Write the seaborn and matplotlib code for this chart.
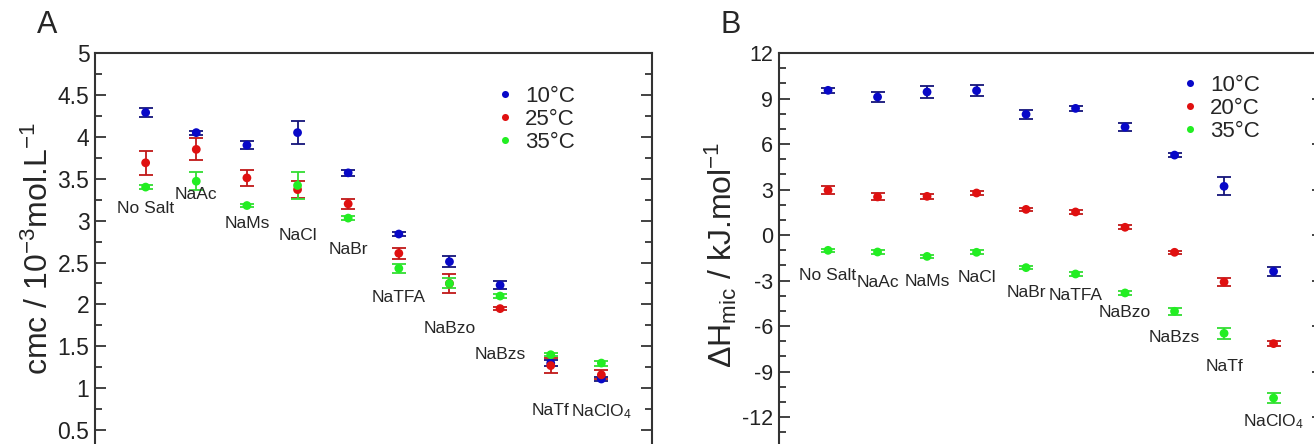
import matplotlib
matplotlib.use("Agg")
import matplotlib.pyplot as plt
import numpy as np
import pandas as pd
import seaborn as sns
from matplotlib.ticker import FixedLocator, MultipleLocator, FormatStrFormatter

# salts, in plotting order
salts = ["No Salt", "NaAc", "NaMs", "NaCl", "NaBr", "NaTFA", "NaBzo", "NaBzs", "NaTf", "NaClO$_4$"]

# panel A: cmc / 10^-3 mol.L^-1
cmc_10 = [4.29, 4.05, 3.90, 4.05, 3.57, 2.84, 2.51, 2.23, 1.30, 1.11]
cmc_10_err = [0.05, 0.025, 0.045, 0.14, 0.035, 0.02, 0.065, 0.05, 0.04, 0.02]
cmc_25 = [3.69, 3.85, 3.51, 3.37, 3.20, 2.61, 2.25, 1.95, 1.27, 1.16]
cmc_25_err = [0.14, 0.13, 0.095, 0.10, 0.06, 0.065, 0.11, 0.02, 0.085, 0.055]
cmc_35 = [3.40, 3.47, 3.18, 3.42, 3.03, 2.43, 2.25, 2.10, 1.40, 1.30]
cmc_35_err = [0.02, 0.11, 0.02, 0.16, 0.02, 0.05, 0.06, 0.02, 0.02, 0.03]
labels_a_y = [3.15, 3.31, 2.97, 2.82, 2.66, 2.08, 1.71, 1.40, 0.74, 0.72]
ticks_a = [0.5, 1, 1.5, 2, 2.5, 3, 3.5, 4, 4.5, 5]

# panel B: dH_mic / kJ.mol^-1
dh_10 = [9.54, 9.10, 9.43, 9.52, 7.96, 8.35, 7.12, 5.27, 3.21, -2.40]
dh_10_err = [0.15, 0.33, 0.40, 0.37, 0.30, 0.17, 0.26, 0.12, 0.60, 0.30]
dh_20 = [2.95, 2.51, 2.55, 2.77, 1.69, 1.52, 0.51, -1.14, -3.10, -7.16]
dh_20_err = [0.25, 0.23, 0.18, 0.10, 0.10, 0.15, 0.12, 0.10, 0.27, 0.15]
dh_35 = [-1.01, -1.12, -1.41, -1.14, -2.15, -2.57, -3.82, -5.03, -6.48, -10.75]
dh_35_err = [0.10, 0.10, 0.10, 0.12, 0.12, 0.10, 0.15, 0.25, 0.35, 0.35]
labels_b_y = [-2.64, -3.12, -3.05, -2.79, -3.82, -4.0, -5.1, -6.73, -8.66, -12.3]
ticks_b = [-12, -9, -6, -3, 0, 3, 6, 9, 12]

dot_colors = ["#0808c8", "#e01010", "#22ee22"]
bar_colors = ["#14147a", "#c01818", "#33dd33"]

sns.set_style("ticks")
plt.rcParams["font.family"] = ["Liberation Sans", "DejaVu Sans"]
plt.rcParams["mathtext.default"] = "regular"


def panel(ax, series, errors, temps, label_y, ylim, ticks, minor, ylabel, ticksize):
    pos = np.arange(1, len(salts) + 1)
    df = pd.concat([pd.DataFrame({"pos": pos, "val": s, "temp": t})
                    for s, t in zip(series, temps)])
    for s, e, c in zip(series, errors, bar_colors):
        ax.errorbar(pos, s, yerr=e, fmt="none", ecolor=c, elinewidth=1.3,
                    capsize=5, capthick=1.3, zorder=2)
    sns.scatterplot(data=df, x="pos", y="val", hue="temp", palette=dot_colors,
                    s=40, edgecolor="none", ax=ax, zorder=3)
    for p, name, ly in zip(pos, salts, label_y):
        ax.text(p, ly, name, ha="center", va="center", fontsize=12.5)
    ax.set_xlim(0, 11)
    ax.set_ylim(*ylim)
    ax.set_xticks([])
    ax.set_xlabel("")
    ax.set_ylabel(ylabel, fontsize=23)
    ax.yaxis.set_major_locator(FixedLocator(ticks))
    ax.yaxis.set_minor_locator(MultipleLocator(minor))
    ax.yaxis.set_major_formatter(FormatStrFormatter("%g"))
    ax.tick_params(axis="y", which="both", direction="in", left=True, right=True,
                   labelsize=ticksize, colors="#222222", width=1.2, pad=4)
    ax.tick_params(axis="y", which="major", length=8)
    ax.tick_params(axis="y", which="minor", length=5)
    for sp in ax.spines.values():
        sp.set_visible(True)
        sp.set_linewidth(1.5)
        sp.set_color("#333333")
    leg = ax.legend(loc="upper left", frameon=False, fontsize=16, handletextpad=0.4,
                    labelspacing=0.1, borderpad=0, borderaxespad=0, handlelength=1.0,
                    markerscale=0.8)
    return leg


fig = plt.figure(figsize=(13.14, 4.44), dpi=100)
ax_a = fig.add_axes([0.0723, -0.0631, 0.4239, 0.9437])
ax_b = fig.add_axes([0.5925, -0.0417, 0.4144, 0.9223])

leg_a = panel(ax_a, [cmc_10, cmc_25, cmc_35], [cmc_10_err, cmc_25_err, cmc_35_err],
              ["10°C", "25°C", "35°C"], labels_a_y, (0, 5), ticks_a, 0.25,
              "cmc / 10$^{-3}$mol.L$^{-1}$", 16.5)
leg_a.set_bbox_to_anchor((0.716, 0.922), transform=ax_a.transAxes)
ax_a.yaxis.set_label_coords(-0.072, 0.532)

leg_b = panel(ax_b, [dh_10, dh_20, dh_35], [dh_10_err, dh_20_err, dh_35_err],
              ["10°C", "20°C", "35°C"], labels_b_y, (-15, 12), ticks_b, 1,
              "ΔH$_{mic}$ / kJ.mol$^{-1}$", 15.5)
leg_b.set_bbox_to_anchor((0.7355, 0.947), transform=ax_b.transAxes)
ax_b.yaxis.set_label_coords(-0.072, 0.507)

fig.text(0.028, 0.926, "A", fontsize=22, va="baseline")
fig.text(0.548, 0.926, "B", fontsize=22, va="baseline")

fig.savefig("out.png", dpi=100)
